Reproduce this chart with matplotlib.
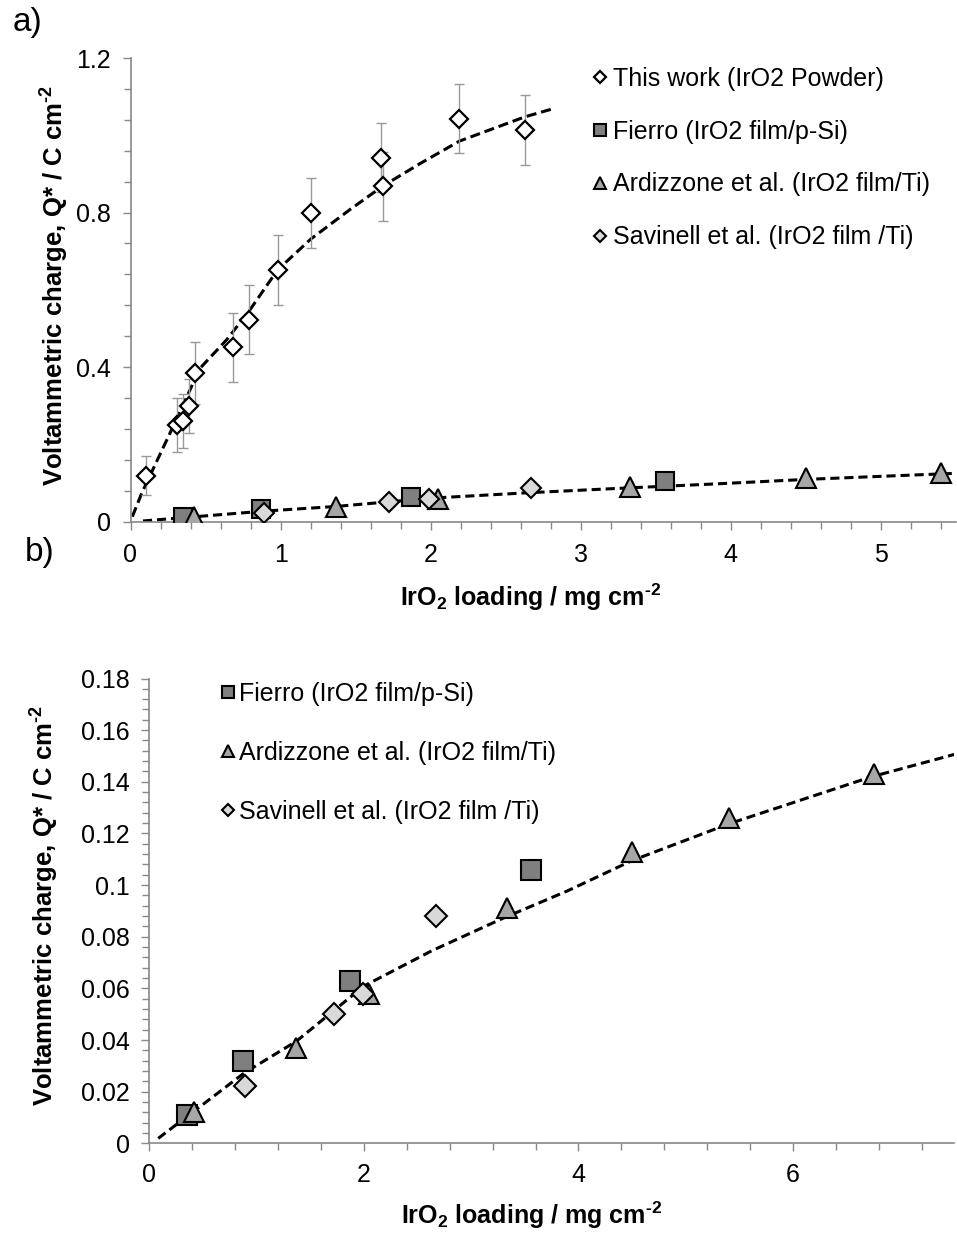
import matplotlib
matplotlib.use("Agg")
import matplotlib.pyplot as plt
from matplotlib.ticker import MultipleLocator, FormatStrFormatter

plt.rcParams['font.family'] = ['Liberation Sans', 'DejaVu Sans']
plt.rcParams['mathtext.fontset'] = 'custom'
plt.rcParams['mathtext.rm'] = 'Liberation Sans:bold'
plt.rcParams['mathtext.bf'] = 'Liberation Sans:bold'
plt.rcParams['mathtext.default'] = 'bf'

# --- data ---
# this work (IrO2 powder), with error bars
work_x = [0.10, 0.31, 0.35, 0.39, 0.43, 0.68, 0.79, 0.98, 1.20, 1.68, 1.67, 2.19, 2.63]
work_y = [0.119, 0.251, 0.261, 0.300, 0.385, 0.451, 0.523, 0.652, 0.799, 0.868, 0.942, 1.043, 1.013]
work_err = [0.05, 0.07, 0.07, 0.07, 0.08, 0.09, 0.09, 0.09, 0.09, 0.09, 0.09, 0.09, 0.09]

fierro_x = [0.35, 0.87, 1.87, 3.56]
fierro_y = [0.011, 0.032, 0.063, 0.106]

ardiz_x = [0.42, 1.37, 2.05, 3.33, 4.50, 5.40, 6.75]
ardiz_y = [0.012, 0.037, 0.058, 0.091, 0.113, 0.126, 0.143]

savin_x = [0.89, 1.72, 1.99, 2.67]
savin_y = [0.022, 0.050, 0.058, 0.088]

# dashed trend lines
fit_work_x = [0.012, 0.075, 0.263, 0.463, 0.641, 0.788, 0.981, 1.203, 1.463, 1.679, 1.930, 2.192, 2.63, 2.80]
fit_work_y = [0.013, 0.074, 0.229, 0.397, 0.471, 0.544, 0.652, 0.732, 0.808, 0.868, 0.927, 0.985, 1.048, 1.067]

fit_film_x = [0.083, 0.884, 1.37, 2.00, 2.63, 3.31, 3.90, 4.50, 5.40, 6.72, 7.53]
fit_film_y = [0.0019, 0.0272, 0.0395, 0.0609, 0.0745, 0.0874, 0.0978, 0.1095, 0.1237, 0.1418, 0.1509]

labels = ['This work (IrO2 Powder)', 'Fierro (IrO2 film/p-Si)',
          'Ardizzone et al. (IrO2 film/Ti)', 'Savinell et al. (IrO2 film /Ti)']

W, H = 957, 1236
fig = plt.figure(figsize=(W / 100, H / 100), dpi=100)

spine_c = '#888888'
xlab = r'IrO$_2$ loading / mg cm$^{‐2}$'
ylab = r'Voltammetric charge, Q* / C cm$^{‐2}$'
FS = 18


def style_axes(ax, xpad):
    for s in ['top', 'right']:
        ax.spines[s].set_visible(False)
    for s in ['left', 'bottom']:
        ax.spines[s].set_color(spine_c)
        ax.spines[s].set_linewidth(1.2)
    ax.tick_params(which='both', direction='out', color=spine_c, width=1,
                   labelsize=FS, labelcolor='black')
    ax.tick_params(which='major', length=6)
    ax.tick_params(which='minor', length=5)
    ax.tick_params(axis='x', pad=xpad)
    ax.tick_params(axis='y', pad=8)
    ax.yaxis.set_major_formatter(FormatStrFormatter('%g'))


def shrink_handles(leg):
    # legend symbols are drawn smaller than the plotted markers
    for h in leg.legend_handles:
        m = h.get_marker()
        h.set_markersize(6 if m == 'D' else 8)


# ---------------- panel a ----------------
ax1 = fig.add_axes([130.5 / W, 1 - 521.7 / H, (956 - 130.5) / W, (521.7 - 58) / H])
ax1.plot(fit_work_x, fit_work_y, color='black', lw=2.2, ls=(0, (3.3, 1.6)), zorder=2)
ax1.plot(fit_film_x, fit_film_y, color='black', lw=2.2, ls=(0, (3, 1.6)), zorder=2)
ax1.errorbar(work_x, work_y, yerr=work_err, fmt='none', ecolor='#999999',
             elinewidth=1, capsize=3.5, capthick=1, zorder=3)
ax1.plot(work_x, work_y, 'D', ms=9, mfc='white', mec='black', mew=1.6,
         ls='none', zorder=4, label=labels[0])
ax1.plot(fierro_x, fierro_y, 's', ms=13.5, mfc='#7f7f7f', mec='black', mew=1.5,
         ls='none', zorder=4, label=labels[1])
ax1.plot(ardiz_x, ardiz_y, '^', ms=14, mfc='#a6a6a6', mec='black', mew=1.5,
         ls='none', zorder=4, label=labels[2])
ax1.plot(savin_x, savin_y, 'D', ms=10, mfc='#d9d9d9', mec='black', mew=1.5,
         ls='none', zorder=4, label=labels[3])
ax1.set_xlim(0, 5.5)
ax1.set_ylim(0, 1.2)
ax1.xaxis.set_major_locator(MultipleLocator(1))
ax1.xaxis.set_minor_locator(MultipleLocator(0.2))
ax1.yaxis.set_major_locator(MultipleLocator(0.4))
ax1.yaxis.set_minor_locator(MultipleLocator(0.08))
style_axes(ax1, 9)
leg1 = ax1.legend(loc='upper left', bbox_to_anchor=(592 / W, 1 - 67 / H),
                  bbox_transform=fig.transFigure, frameon=False, fontsize=FS,
                  handlelength=0.6, handletextpad=0.25,
                  labelspacing=1.15, borderpad=0, borderaxespad=0)
shrink_handles(leg1)

# ---------------- panel b ----------------
ax2 = fig.add_axes([149.3 / W, 1 - 1143.3 / H, (954 - 149.3) / W, (1143.3 - 678.5) / H])
ax2.plot(fit_film_x, fit_film_y, color='black', lw=2.2, ls=(0, (3, 1.6)), zorder=2)
ax2.plot(fierro_x, fierro_y, 's', ms=14, mfc='#7f7f7f', mec='black', mew=1.5,
         ls='none', zorder=4, label=labels[1])
ax2.plot(ardiz_x, ardiz_y, '^', ms=15, mfc='#a6a6a6', mec='black', mew=1.5,
         ls='none', zorder=4, label=labels[2])
ax2.plot(savin_x, savin_y, 'D', ms=11, mfc='#d9d9d9', mec='black', mew=1.5,
         ls='none', zorder=4, label=labels[3])
ax2.set_xlim(0, 7.5)
ax2.set_ylim(0, 0.18)
ax2.xaxis.set_major_locator(MultipleLocator(2))
ax2.xaxis.set_minor_locator(MultipleLocator(0.4))
ax2.yaxis.set_major_locator(MultipleLocator(0.02))
ax2.yaxis.set_minor_locator(MultipleLocator(0.004))
style_axes(ax2, 8)
leg2 = ax2.legend(loc='upper left', bbox_to_anchor=(220 / W, 1 - 682 / H),
                  bbox_transform=fig.transFigure, frameon=False, fontsize=FS,
                  handlelength=0.6, handletextpad=0.15,
                  labelspacing=1.4, borderpad=0, borderaxespad=0)
shrink_handles(leg2)

# axis titles and panel letters
fig.text(531 / W, 1 - 597 / H, xlab, ha='center', va='center', fontsize=FS, fontweight='bold')
fig.text(532 / W, 1 - 1215 / H, xlab, ha='center', va='center', fontsize=FS, fontweight='bold')
fig.text(55 / W, 1 - 285 / H, ylab, ha='center', va='center', rotation=90,
         fontsize=18.5, fontweight='bold')
fig.text(45 / W, 1 - 905 / H, ylab, ha='center', va='center', rotation=90,
         fontsize=18.5, fontweight='bold')
fig.text(28 / W, 1 - 22 / H, 'a)', ha='center', va='center', fontsize=24)
fig.text(40 / W, 1 - 553 / H, 'b)', ha='center', va='center', fontsize=24)

fig.savefig('out.png', dpi=100)
